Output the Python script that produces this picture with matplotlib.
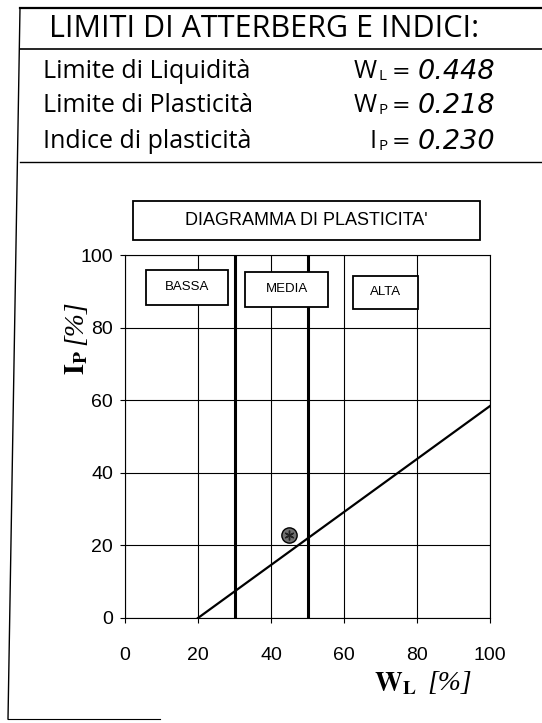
import matplotlib.pyplot as plt
from matplotlib.lines import Line2D
from matplotlib.patches import Rectangle

W, H = 542, 723

# dati del campione
wl = 0.448
wp = 0.218
ip = 0.230
wl_pct = [44.8]
ip_pct = [23.0]

# limiti di classe e retta A
class_limits = [30, 50]
aline_x = [20, 100]
aline_y = [0.73 * (x - 20) for x in aline_x]
ticks = [0, 20, 40, 60, 80, 100]
class_names = ['BASSA', 'MEDIA', 'ALTA']
class_boxes = [(5.8, 86.3, 22.4, 9.6), (32.9, 85.8, 22.7, 9.4), (62.5, 85.2, 17.8, 9.0)]

header_font = ['Open Sans', 'DejaVu Sans']
value_font = ['DejaVu Sans']
num_font = ['Liberation Sans Narrow', 'Liberation Sans']
serif_font = ['Liberation Serif', 'DejaVu Serif']

plt.rcParams['mathtext.fontset'] = 'stix'


def fx(px):
    return px / W


def fy(py):
    return 1 - py / H


fig = plt.figure(figsize=(W / 100, H / 100), dpi=100)

# cornice e righe dell'intestazione
for (x0, y0, x1, y1, lw) in [(20, 8, 542, 8, 1.6), (20, 49, 542, 49, 1.2),
                             (20, 162, 542, 162, 1.0), (20, 8, 8, 719, 1.0),
                             (8, 719, 160, 719, 0.8)]:
    fig.add_artist(Line2D([fx(x0), fx(x1)], [fy(y0), fy(y1)], color='black', lw=lw))

fig.text(fx(49), fy(29), 'LIMITI DI ATTERBERG E INDICI:', family=header_font,
         fontsize=22, va='center', ha='left')
rows = [('Limite di Liquidità', 'W', 'L', wl, 71),
        ('Limite di Plasticità', 'W', 'P', wp, 105),
        ('Indice di plasticità', 'I', 'P', ip, 141)]
for name, sym, sub, val, ypx in rows:
    fig.text(fx(43), fy(ypx), name, family=header_font, fontsize=18, va='center')
    fig.text(fx(377), fy(ypx), sym, family=header_font, fontsize=18,
             va='center', ha='right')
    fig.text(fx(378), fy(ypx + 6), sub, family=header_font, fontsize=11,
             va='center', ha='left')
    fig.text(fx(401), fy(ypx + 1), '=', family=value_font, fontsize=16,
             va='center', ha='center')
    fig.text(fx(418), fy(ypx + 1), f'{val:.3f}', family=value_font, fontsize=19.5,
             va='center', ha='left', style='italic', fontweight='light')

ax = fig.add_axes([fx(125), fy(618), fx(490) - fx(125), fy(255) - fy(618)])
ax.set_xlim(0, 100)
ax.set_ylim(0, 100)
ax.set_xticks(ticks)
ax.set_yticks(ticks)
ax.grid(True, color='black', lw=0.8)
ax.set_axisbelow(True)
for s in ax.spines.values():
    s.set_linewidth(0.8)
ax.tick_params(direction='out', length=3.6, width=0.8, labelsize=14)
ax.tick_params(axis='x', pad=17)
ax.tick_params(axis='y', pad=5)
for lab in ax.get_xticklabels() + ax.get_yticklabels():
    lab.set_family(num_font)

for x in class_limits:
    ax.axvline(x, color='black', lw=2.2)
ax.plot(aline_x, aline_y, color='black', lw=1.6)

ax.plot(wl_pct, ip_pct, 'o', ms=11, mfc='#707070', mec='black', mew=1.0, zorder=5)
ax.plot(wl_pct, ip_pct, marker=(6, 2, 0), ms=7, color='#202020', mew=1.0, ls='none', zorder=6)

for name, (x0, y0, w, h) in zip(class_names, class_boxes):
    ax.add_patch(Rectangle((x0, y0), w, h, fc='white', ec='black', lw=1.3, zorder=4))
    ax.text(x0 + w / 2, y0 + h / 2, name, ha='center', va='center', fontsize=9.5,
            family=num_font, zorder=5)

ax.add_patch(Rectangle((2.2, 104.1), 95.1, 10.7, fc='white', ec='black', lw=1.3,
                       clip_on=False))
ax.text(49.75, 109.45, "DIAGRAMMA DI PLASTICITA'", ha='center', va='center',
        fontsize=13, family=num_font, clip_on=False)

# etichette degli assi
fig.text(fx(417), fy(683), r'$\mathbf{W}_{\mathbf{L}}$', fontsize=20,
         ha='right', va='center')
fig.text(fx(427), fy(683), '[%]', family=serif_font, style='italic', fontsize=20,
         ha='left', va='center')
fig.text(fx(76), fy(350), r'$\mathbf{I}_{\mathbf{P}}$', fontsize=20,
         ha='center', va='top', rotation=90)
fig.text(fx(76), fy(345), '[%]', family=serif_font, style='italic', fontsize=20,
         ha='center', va='bottom', rotation=90)

fig.savefig('out.png', dpi=100)
